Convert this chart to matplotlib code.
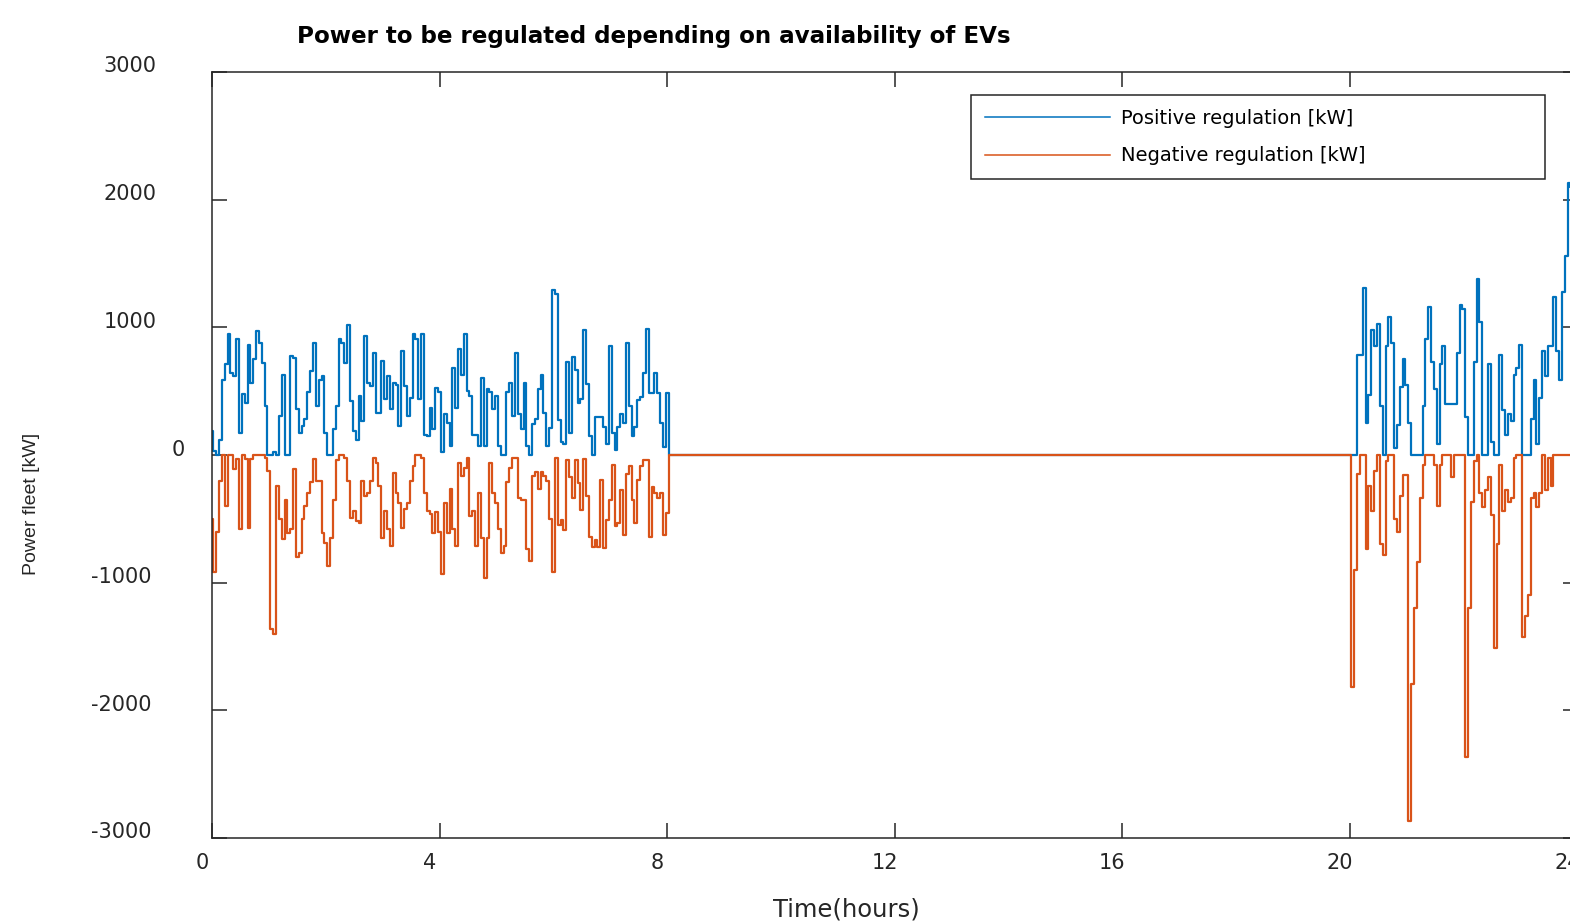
import numpy as np
import matplotlib
matplotlib.use("Agg")
import matplotlib.pyplot as plt
from matplotlib import font_manager
from matplotlib.transforms import ScaledTranslation

# ---------------- data (kW), sampled every 0.05 h ----------------
dt = 0.05
start_morning = 0.0
start_evening = 20.0

pos_morning = [190, 30, 0, 120, 590, 710, 945, 645, 620, 905,
               175, 475, 410, 865, 565, 750, 970, 880, 720, 385,
               0, 0, 20, 0, 305, 630, 0, 0, 775, 760,
               360, 175, 230, 280, 490, 660, 880, 385, 590, 620,
               175, 0, 0, 200, 385, 905, 880, 720, 1020, 420,
               190, 120, 460, 270, 930, 565, 540, 800, 330, 330,
               735, 435, 620, 360, 565, 550, 230, 815, 540, 305,
               450, 945, 905, 435, 945, 160, 150, 370, 200, 525,
               490, 20, 320, 250, 70, 685, 370, 830, 630, 945,
               500, 460, 160, 160, 70, 605, 70, 515, 490, 360,
               460, 70, 0, 0, 490, 565, 305, 800, 320, 200,
               565, 70, 0, 240, 280, 515, 630, 330, 70, 215,
               1290, 1260, 275, 105, 90, 730, 170, 770, 665, 405,
               440, 980, 560, 150, 0, 300, 300, 300, 220, 90,
               850, 170, 40, 220, 325, 250, 875, 380, 145, 220,
               430, 455, 640, 990, 485, 485, 640, 485, 250, 65,
               485]

neg_morning = [-500, -920, -600, -200, 0, -400, 0, 0, -110, -35,
               -580, 0, -35, -570, -30, 0, 0, 0, 0, -20,
               -125, -1365, -1400, -240, -500, -660, -350, -610, -580, -110,
               -800, -765, -500, -400, -295, -215, -35, -200, -200, -610,
               -690, -870, -650, -350, -40, 0, 0, -20, -200, -490,
               -440, -515, -530, -200, -320, -295, -200, -20, -60, -240,
               -650, -440, -580, -710, -140, -295, -375, -570, -425, -375,
               -200, -85, 0, 0, -20, -295, -440, -465, -610, -450,
               -600, -935, -375, -610, -270, -580, -710, -60, -165, -100,
               -20, -480, -440, -710, -295, -650, -960, -650, -60, -295,
               -375, -580, -765, -710, -215, -100, -20, -20, -335, -350,
               -350, -740, -830, -165, -135, -270, -130, -165, -200, -500,
               -915, -20, -550, -510, -590, -40, -170, -340, -40, -220,
               -430, -30, -325, -640, -720, -665, -720, -195, -730, -510,
               -350, -80, -560, -535, -275, -625, -145, -90, -350, -535,
               -195, -90, -40, -40, -640, -250, -300, -340, -300, -625,
               -455]

pos_evening = [0, 0, 0, 780, 780, 1310, 250, 470, 980, 850,
               1030, 385, 0, 850, 1080, 880, 55, 235, 535, 750,
               550, 250, 0, 0, 0, 0, 385, 910, 1160, 730,
               515, 90, 715, 850, 400, 400, 400, 400, 800, 1175,
               1145, 300, 0, 0, 730, 1375, 1045, 0, 0, 715,
               100, 0, 0, 780, 350, 155, 320, 270, 630, 680,
               865, 0, 0, 0, 285, 585, 90, 450, 815, 615,
               850, 850, 1240, 815, 585, 1275, 1555, 2130, 2100, 2000,
               2050]

neg_evening = [0, -1820, -900, -150, 0, 0, -735, -240, -440, -125,
               0, -700, -785, -50, 0, 0, -505, -600, -320, -160,
               -160, -2870, -1790, -1200, -835, -340, -75, 0, 0, 0,
               -75, -400, -75, 0, 0, 0, -175, 0, 0, 0,
               0, -2365, -1195, -370, -50, 0, -300, -405, -275, -175,
               -470, -1510, -700, -75, -440, -275, -370, -340, -20, 0,
               0, -1425, -1260, -1100, -340, -300, -405, -300, 0, -275,
               -20, -240, 0, 0, 0, 0, 0, 0, 0, 0,
               0]

x_ticks = [0, 4, 8, 12, 16, 20, 24]
x_ticklabels = ["0", "4", "8", "12", "16", "20", "24"]
y_ticks = [3000, 2000, 1000, 0, -1000, -2000, -3000]
y_ticklabels = ["3000", "2000", "1000", "0", "-1000", "-2000", "-3000"]

series_labels = ["Positive regulation [kW]", "Negative regulation [kW]"]
title_text = "Power to be regulated depending on availability of EVs"
xlabel_text = "Time(hours)"
ylabel_text = "Power fleet [kW]"


def build(v1, v2):
    t1 = start_morning + dt * np.arange(len(v1))
    t2 = start_evening + dt * np.arange(len(v2))
    t = np.concatenate([t1, [t1[-1] + dt, t2[0] - dt], t2])
    v = np.concatenate([np.asarray(v1, float), [0.0, 0.0], np.asarray(v2, float)])
    return t, v


tp, vp = build(pos_morning, pos_evening)
tn, vn = build(neg_morning, neg_evening)

# ---------------- figure ----------------
W, H = 1570, 923
fig = plt.figure(figsize=(W / 100, H / 100), dpi=100)
fig.patch.set_facecolor("white")
ax = fig.add_axes([212 / W, 85 / H, 1365.6 / W, 766 / H])

ax.plot(tp, vp, color="#0072BD", lw=1.6, drawstyle="steps-mid",
        label=series_labels[0])
ax.plot(tn, vn, color="#D95319", lw=1.6, drawstyle="steps-mid",
        label=series_labels[1])

ax.set_xlim(0, 24)
ax.set_ylim(-3000, 3000)
ax.set_xticks(x_ticks)
ax.set_xticklabels(x_ticklabels)
ax.set_yticks(y_ticks)
ax.set_yticklabels(y_ticklabels)

dark = "#262626"
ax.tick_params(direction="in", length=10.8, width=1.1, color=dark,
               labelcolor=dark, top=True, right=True, labelsize=15)
ax.tick_params(axis="x", pad=11)
ax.tick_params(axis="y", pad=40)
for sp in ax.spines.values():
    sp.set_color(dark)
    sp.set_linewidth(1.1)

# odd label offsets of the original export
for lab in ax.get_xticklabels():
    lab.set_transform(lab.get_transform() +
                      ScaledTranslation(-10 / 100, 0, fig.dpi_scale_trans))
for lab, txt in zip(ax.get_yticklabels(), y_ticklabels):
    dx = 0.0
    if txt == "0":
        dx = 28.0
    elif txt.startswith("-"):
        dx = -5.0
    lab.set_transform(lab.get_transform() +
                      ScaledTranslation(dx / 100, 7.5 / 100, fig.dpi_scale_trans))

fs_leg = 14
leg = ax.legend(loc="upper left",
                bbox_to_anchor=(971 / W, 1 - 177 / H, 574 / W, 82 / H),
                bbox_transform=fig.transFigure, mode="expand",
                borderaxespad=0, fontsize=fs_leg, fancybox=False,
                framealpha=1, edgecolor=dark,
                handlelength=125 / (fs_leg * 100 / 72),
                handletextpad=11 / (fs_leg * 100 / 72),
                borderpad=0.72, labelspacing=0.95)
leg.get_frame().set_linewidth(1.1)
for line in leg.get_lines():
    line.set_linewidth(1.1)

fig.text(654 / W, 1 - 36 / H, title_text, ha="center", va="center",
         fontsize=16.6, fontweight="bold", color="black")
fig.text(846.5 / W, (H - 916) / H, xlabel_text, ha="center", va="baseline",
         fontsize=17.5, color=dark)

installed = {f.name for f in font_manager.fontManager.ttflist}
if "Liberation Sans Narrow" in installed:
    ylab_family, ylab_size = ["Liberation Sans Narrow", "DejaVu Sans"], 17
else:
    ylab_family, ylab_size = ["Liberation Sans", "DejaVu Sans"], 14
fig.text(32 / W, 1 - 504 / H, ylabel_text, ha="center", va="center",
         rotation=90, fontsize=ylab_size, color=dark, family=ylab_family)

fig.savefig("out.png", dpi=100)
